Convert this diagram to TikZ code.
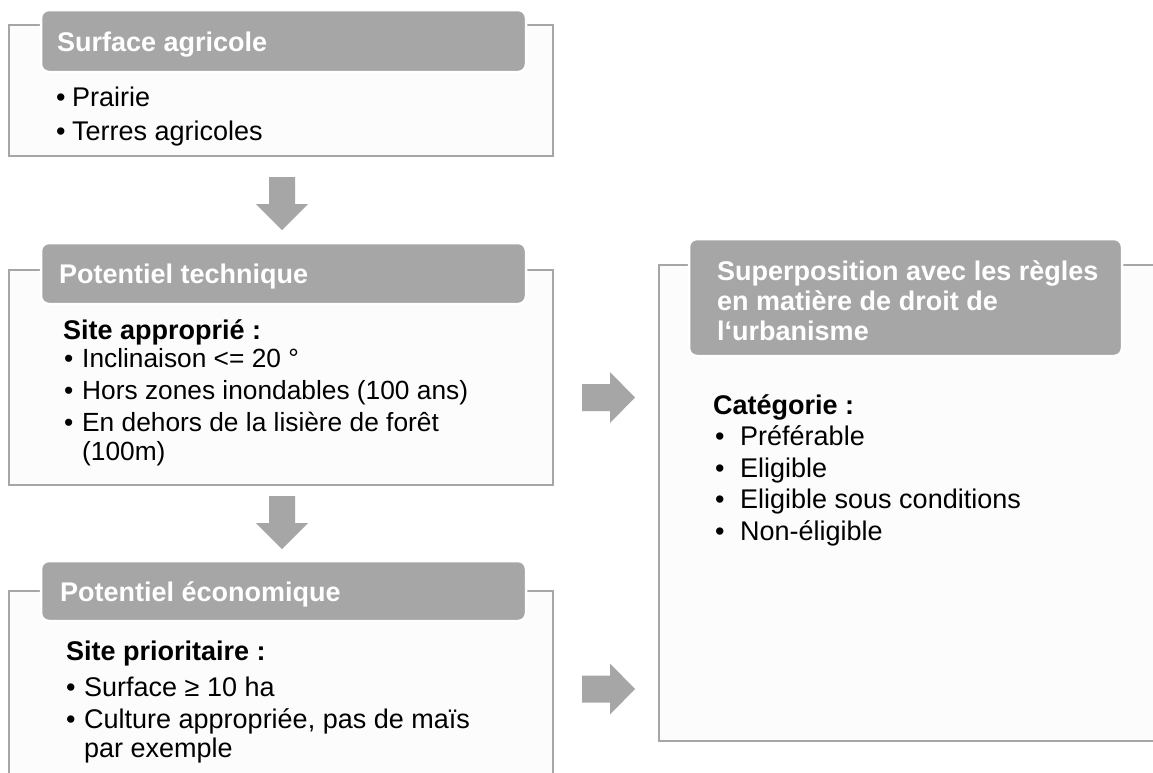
\documentclass[tikz,border=0pt]{standalone}
\usepackage{fontspec}
\setmainfont{Liberation Sans}
\usetikzlibrary{calc}
\definecolor{hdr}{HTML}{A6A6A6}
\definecolor{boxfill}{HTML}{FCFCFC}
\tikzset{
  outline/.style={draw=hdr, line width=2pt, fill=boxfill},
  header/.style={fill=hdr, draw=white, line width=2.5pt, rounded corners=8pt},
  hdrtext/.style={anchor=base west, text=white, inner sep=0pt, font=\fontsize{27}{31}\selectfont\bfseries},
  subtitle/.style={anchor=base west, inner sep=0pt, font=\fontsize{27}{31}\selectfont\bfseries},
  body/.style={anchor=base west, inner sep=0pt, font=\fontsize{27}{31}\selectfont},
  bodysm/.style={anchor=base west, inner sep=0pt, font=\fontsize{26.3}{30}\selectfont},
  blockarrow/.style={fill=hdr, draw=none}
}
\newcommand{\downarrowshape}[1]{% #1 = top centre coordinate name
  \fill[blockarrow] ($(#1)+(-13,0)$) -- ($(#1)+(13,0)$) -- ($(#1)+(13,27)$) -- ($(#1)+(26,27)$)
    -- ($(#1)+(0,53)$) -- ($(#1)+(-26,27)$) -- ($(#1)+(-13,27)$) -- cycle;}
\newcommand{\rightarrowshape}[1]{% #1 = left centre coordinate name
  \fill[blockarrow] ($(#1)+(0,-13.5)$) -- ($(#1)+(28,-13.5)$) -- ($(#1)+(28,-25.5)$) -- ($(#1)+(53,0)$)
    -- ($(#1)+(28,25.5)$) -- ($(#1)+(28,13.5)$) -- ($(#1)+(0,13.5)$) -- cycle;}
\begin{document}
\begin{tikzpicture}[x=1pt,y=-1pt]
\clip (0,0) rectangle (1153,772);
\fill[white] (0,0) rectangle (1153,772);

% ---------- Box 1 : Surface agricole ----------
\draw[outline] (9,25) rectangle (553,156);
\draw[header] (41,10) rectangle (526,72);
\node[hdrtext] (h1) at (57,51) {Surface agricole};
\node[body] (b11) at (56,106) {•};
\node[body] (t11) at (72,106) {Prairie};
\node[body] (b12) at (56,140) {•};
\node[body] (t12) at (72,140) {Terres agricoles};

% arrow 1
\coordinate (a1) at (282,177);
\downarrowshape{a1}

% ---------- Box 2 : Potentiel technique ----------
\draw[outline] (9,270) rectangle (553,485);
\draw[header] (41,243) rectangle (526,304);
\node[hdrtext] (h2) at (59,283) {Potentiel technique};
\node[subtitle] (s2) at (63,339) {Site approprié :};
\node[bodysm] (b21) at (64,367) {•};
\node[bodysm] (t21) at (82,367) {Inclinaison <= 20 °};
\node[bodysm] (b22) at (64,399) {•};
\node[bodysm] (t22) at (82,399) {Hors zones inondables (100 ans)};
\node[bodysm] (b23) at (64,431) {•};
\node[bodysm] (t23) at (82,431) {En dehors de la lisière de forêt};
\node[bodysm] (t24) at (82,460) {(100m)};

% arrow 2
\coordinate (a2) at (282,496);
\downarrowshape{a2}

% ---------- Box 3 : Potentiel économique ----------
\draw[outline] (9,591) rectangle (553,800);
\draw[header] (41,561) rectangle (526,621);
\node[hdrtext] (h3) at (60,601) {Potentiel économique};
\node[subtitle] (s3) at (66,660) {Site prioritaire :};
\node[body] (b31) at (66,696) {•};
\node[body] (t31) at (84,696) {Surface ≥ 10 ha};
\node[body] (b32) at (66,728) {•};
\node[body] (t32) at (84,728) {Culture appropriée, pas de maïs};
\node[body] (t33) at (84,757) {par exemple};

% right arrows
\coordinate (r1) at (582,397.5);
\rightarrowshape{r1}
\coordinate (r2) at (582,689);
\rightarrowshape{r2}

% ---------- Box 4 : Superposition ----------
\draw[outline] (659,265) rectangle (1175,741);
\draw[header] (689,239) rectangle (1122,356);
\node[hdrtext] (h41) at (717,280) {Superposition avec les règles};
\node[hdrtext] (h42) at (717,310) {en matière de droit de};
\node[hdrtext] (h43) at (717,340) {l‘urbanisme};
\node[subtitle] (s4) at (713,414) {Catégorie :};
\node[body] (b41) at (715,445) {•};
\node[body] (t41) at (740,445) {Préférable};
\node[body] (b42) at (715,477) {•};
\node[body] (t42) at (740,477) {Eligible};
\node[body] (b43) at (715,508) {•};
\node[body] (t43) at (740,508) {Eligible sous conditions};
\node[body] (b44) at (715,540) {•};
\node[body] (t44) at (740,540) {Non-éligible};
\end{tikzpicture}
\end{document}
